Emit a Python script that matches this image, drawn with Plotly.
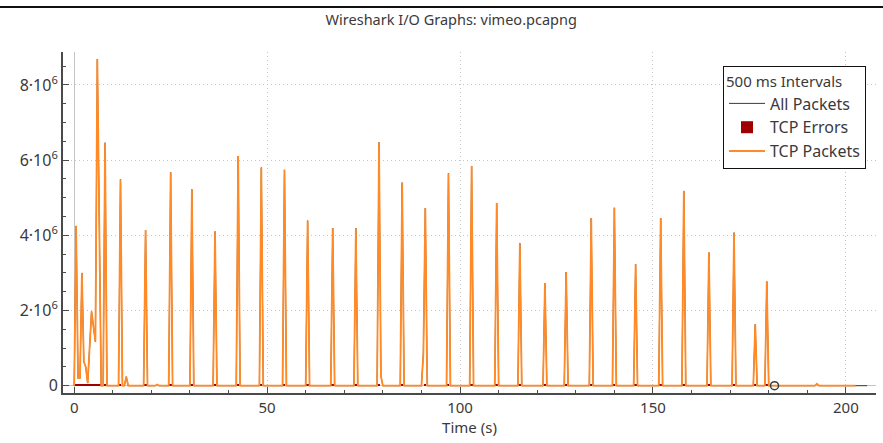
import plotly.graph_objects as go

# ---- data ----
tcp_time = [0, 0.5, 1.0, 1.5, 2.0, 2.5, 3.0, 3.5, 4.5, 5.5, 6.0, 7.0,
            7.5, 8.0, 8.5, 11.5, 12.0, 12.5, 13.0, 13.5, 14.0,
            18.0, 18.5, 19.0, 21.0, 21.5, 22.0, 24.5, 25.0, 25.5,
            30.0, 30.5, 31.0, 36.0, 36.5, 37.0, 42.0, 42.5, 43.0,
            48.0, 48.5, 49.0, 54.0, 54.5, 55.0, 60.0, 60.5, 61.0,
            66.5, 67.0, 67.5, 72.5, 73.0, 73.5, 78.5, 79.0, 79.5, 80.0,
            84.5, 85.0, 85.5, 90.0, 90.5, 91.0, 91.5, 96.5, 97.0, 97.5,
            102.5, 103.0, 103.5, 109.0, 109.5, 110.0, 115.0, 115.5, 116.0,
            121.5, 122.0, 122.5, 127.0, 127.5, 128.0, 133.5, 134.0, 134.5,
            139.5, 140.0, 140.5, 145.0, 145.5, 146.0, 151.5, 152.0, 152.5,
            157.5, 158.0, 158.5, 164.0, 164.5, 165.0, 170.5, 171.0, 171.5,
            176.0, 176.5, 177.0, 179.0, 179.5, 180.0, 192.0, 192.5, 193.0,
            202.5]
tcp_bytes = [0, 4.25e6, 0.2e6, 0.2e6, 3.0e6, 0.64e6, 0.5e6, 0.07e6, 1.97e6, 1.17e6, 8.68e6, 0,
             0, 6.46e6, 0, 0, 5.49e6, 0, 0, 0.24e6, 0,
             0, 4.14e6, 0, 0, 0.03e6, 0, 0, 5.67e6, 0,
             0, 5.22e6, 0, 0, 4.10e6, 0, 0, 6.11e6, 0,
             0, 5.80e6, 0, 0, 5.74e6, 0, 0, 4.39e6, 0,
             0, 4.19e6, 0, 0, 4.19e6, 0, 0, 6.47e6, 0.25e6, 0,
             0, 5.40e6, 0, 0, 0.87e6, 4.72e6, 0, 0, 5.65e6, 0,
             0, 5.84e6, 0, 0, 4.86e6, 0, 0, 3.79e6, 0,
             0, 2.72e6, 0, 0, 3.02e6, 0, 0, 4.45e6, 0,
             0, 4.73e6, 0, 0, 3.23e6, 0, 0, 4.45e6, 0,
             0, 5.18e6, 0, 0, 3.54e6, 0, 0, 4.07e6, 0,
             0, 1.63e6, 0, 0, 2.77e6, 0, 0, 0.05e6, 0,
             0]
all_time = tcp_time + [205.5]
all_bytes = tcp_bytes + [0]
error_time = [0.5, 1.0, 1.5, 2.0, 2.5, 3.0, 3.5, 4.0, 4.5, 5.0, 5.5, 6.0, 6.5, 7.0,
              8.0, 12.0, 18.5, 25.0, 30.5, 36.5, 42.5, 48.5, 54.5, 60.5, 67.0, 73.0,
              79.0, 85.0, 91.0, 97.0, 103.0, 109.5, 115.5, 122.0, 127.5, 134.0,
              140.0, 145.5, 152.0, 158.0, 164.5, 171.0, 176.5, 179.5]
error_vals = [4e4] * len(error_time)
marker_time = [181.5]
marker_val = [0]

x_tick_vals = [0, 50, 100, 150, 200]
y_tick_vals = [0, 2e6, 4e6, 6e6, 8e6]
y_tick_text = ["0", "2·10<sup>6</sup>", "4·10<sup>6</sup>", "6·10<sup>6</sup>", "8·10<sup>6</sup>"]

FONT = "Noto Sans"
TXT = "#3a3a3a"
PLOT_H = 341  # plot area height in px (t=52, b=50)

fig = go.Figure()
fig.add_trace(go.Scatter(x=all_time, y=all_bytes, mode="lines", name="All Packets",
                         line=dict(color="#3c3c3c", width=1)))
fig.add_trace(go.Bar(x=error_time, y=error_vals, name="TCP Errors", width=0.5,
                     marker=dict(color="#a00000", line=dict(width=0))))
fig.add_trace(go.Scatter(x=tcp_time, y=tcp_bytes, mode="lines", name="TCP Packets",
                         line=dict(color="#ff8a26", width=1.8)))
fig.add_trace(go.Scatter(x=marker_time, y=marker_val, mode="markers", showlegend=False,
                         marker=dict(symbol="circle-open", size=8, color="#3c3c3c",
                                     line=dict(width=1.5, color="#3c3c3c"))))

fig.update_layout(
    width=883, height=443,
    margin=dict(l=63, r=7, t=52, b=50, autoexpand=False),
    paper_bgcolor="white", plot_bgcolor="white",
    font=dict(family=FONT, size=15, color=TXT),
    title=dict(text="Wireshark I/O Graphs: vimeo.pcapng", x=0.511, xanchor="center",
               y=1 - 20 / 443, yanchor="middle", font=dict(family=FONT, size=14.5, color=TXT)),
    showlegend=True,
    bargap=0,
    legend=dict(x=(866 - 63) / 813, xanchor="right", y=(393 - 66) / PLOT_H, yanchor="top",
                bgcolor="white", bordercolor="#111111", borderwidth=1,
                font=dict(family=FONT, size=16, color=TXT),
                title=dict(text="500 ms Intervals", side="top",
                           font=dict(family=FONT, size=15, color=TXT)),
                tracegroupgap=0, itemwidth=36),
    shapes=[dict(type="line", xref="paper", yref="paper", x0=-63 / 813, x1=820 / 813,
                 y0=(393 - 7) / PLOT_H, y1=(393 - 7) / PLOT_H, layer="above",
                 line=dict(color="#111111", width=2))],
)

fig.update_xaxes(
    automargin=False,
    range=[-2.9, 207.8], tickvals=x_tick_vals,
    showline=True, linecolor="#4a4a4a", linewidth=2,
    ticks="inside", ticklen=6, tickcolor="#4a4a4a", tickwidth=1,
    minor=dict(dtick=10, ticks="inside", ticklen=3, tickcolor="#4a4a4a", showgrid=False),
    showgrid=True, gridcolor="#c4c4c4", griddash="1px,3px", gridwidth=1,
    zeroline=True, zerolinecolor="#c4c4c4", zerolinewidth=1,
    title=dict(text="Time (s)", font=dict(family=FONT, size=15, color=TXT), standoff=4),
    tickfont=dict(family=FONT, size=15, color=TXT),
)
fig.update_yaxes(
    automargin=False,
    range=[-0.194e6, 8.875e6], tickvals=y_tick_vals, ticktext=y_tick_text,
    showline=True, linecolor="#4a4a4a", linewidth=2,
    ticks="inside", ticklen=6, tickcolor="#4a4a4a", tickwidth=1,
    minor=dict(dtick=0.5e6, ticks="inside", ticklen=3, tickcolor="#4a4a4a", showgrid=False),
    showgrid=True, gridcolor="#c4c4c4", griddash="1px,3px", gridwidth=1,
    zeroline=True, zerolinecolor="#c4c4c4", zerolinewidth=1,
    tickfont=dict(family=FONT, size=16, color=TXT),
)

fig.write_html("out.html", config={"displayModeBar": False},
               post_script="document.body.style.margin='0';")
